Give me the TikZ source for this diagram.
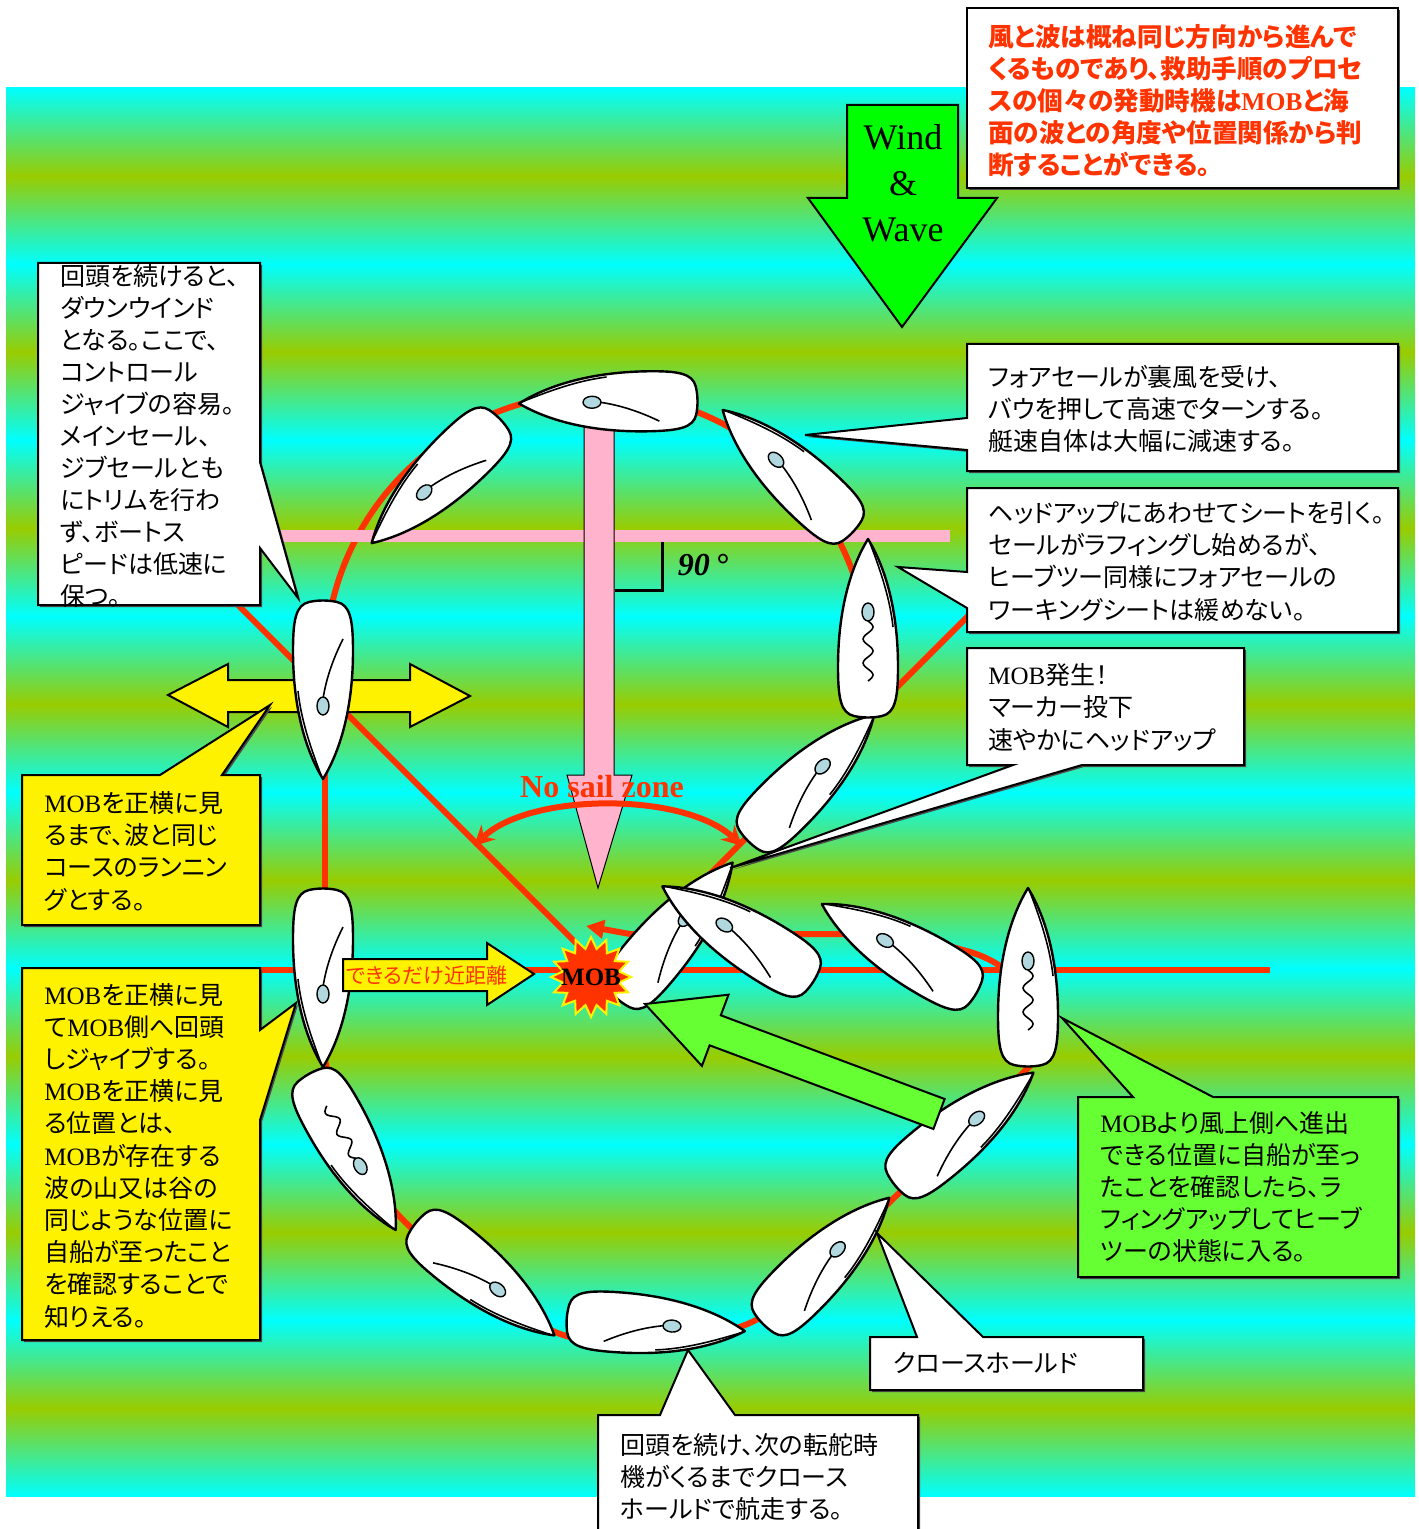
\documentclass[tikz,border=0pt]{standalone}
\usepackage{fontspec}
\setmainfont{Liberation Serif}
\newfontfamily\jp{Noto Sans CJK JP}[RawFeature=+palt]
\usetikzlibrary{arrows.meta,shapes.geometric,shadows}
\definecolor{SeaCyan}{RGB}{0,255,255}
\definecolor{SeaOlive}{RGB}{153,204,0}
\definecolor{CourseRed}{RGB}{255,51,0}
\definecolor{ZonePink}{RGB}{255,179,204}
\definecolor{WindGreen}{RGB}{0,255,0}
\definecolor{NoteGreen}{RGB}{102,255,51}
\definecolor{MastBlue}{RGB}{176,216,222}

\newcommand\en[1]{{\rmfamily #1}}
% boat: x, y, heading, main side, jib side, luffing (1/0)
\newcommand\boat[6]{%
  \begin{scope}[shift={(#1,#2)},rotate=#3]
    \draw[hull] (88,0) .. controls (62,16) and (20,30) .. (-40,30)
      .. controls (-72,30) and (-86,27) .. (-89,14)
      .. controls (-91,5) and (-91,-5) .. (-89,-14)
      .. controls (-86,-27) and (-72,-30) .. (-40,-30)
      .. controls (20,-30) and (62,-16) .. (88,0) -- cycle;
    \draw[sail,yscale=#5] (84,2) .. controls (55,13) and (28,22) .. (0,25);
    \ifnum#6=1
      \draw[sail] plot[smooth,variable=\t,domain=0:1,samples=31] ({6-60*\t},{5*sin(900*\t)});
    \else
      \draw[sail,yscale=#4] (8,0) .. controls (-12,3) and (-32,10) .. (-52,20);
    \fi
    \draw[mast] (15,0) ellipse[x radius=9,y radius=6];
  \end{scope}}

\tikzset{
  course/.style={draw=CourseRed,line width=3pt},
  hull/.style={draw=black,fill=white,line width=1.2pt,line join=round},
  sail/.style={draw=black,line width=0.8pt},
  mast/.style={draw=black,fill=MastBlue,line width=0.7pt},
  arrowbox/.style={draw=black,line width=1pt,line join=miter},
  panel/.style={draw=black,fill=white,line width=1pt,
    drop shadow={shadow xshift=1pt,shadow yshift=-1pt,fill=black!70,opacity=1}},
  jtxt/.style={font=\jp\fontsize{12.5}{16}\selectfont,text width=230pt,
    align=left,inner sep=0pt,anchor=base west},
  mobstar/.style={star,star points=16,star point ratio=1.4,minimum size=40pt,
    inner sep=0pt,fill=CourseRed,draw=yellow,line width=1pt}
}

\begin{document}
\begin{tikzpicture}[x=0.5pt,y=-0.5pt]
\useasboundingbox (0,0) rectangle (1418,1529);

% sea
\foreach \k in {0,...,7}{
  \shade[top color=SeaCyan,bottom color=SeaOlive] (6,88+176*\k) rectangle (1415,176.5+176*\k);
  \shade[top color=SeaOlive,bottom color=SeaCyan] (6,176+176*\k) rectangle (1415,264.5+176*\k);
}

% course lines
\draw[course] (260,970) -- (1270,970);
\draw[course] (225,592) -- (585,952);
\draw[course] (975,609) -- (640,944);
\draw[course] (597,665) ++(10:272) arc[start angle=10,end angle=-180,radius=272];
\draw[course] (325,665) -- (325,1062);
\draw[course] plot[smooth,tension=0.55] coordinates {(325,1060) (352,1150) (405,1222)
  (486,1286) (563,1335) (657,1342) (752,1322) (827,1262) (896,1196) (965,1130) (1030,1066)};
\draw[course,-{Triangle[length=9pt,width=9pt]}] (1030,1066) -- (1028,1000)
  .. controls (1018,975) and (995,958) .. (963,950)
  .. controls (930,940) and (885,934) .. (840,934) -- (630,934) -- (586,926);

% no sail zone
\fill[ZonePink] (275,530) rectangle (950,542);
\draw[fill=ZonePink,line width=0.5pt] (584,425) -- (614,425) -- (614,775) -- (632,775)
  -- (598,888) -- (567,775) -- (584,775) -- cycle;
\draw[course,{Stealth[length=10pt,width=10pt]}-{Stealth[length=10pt,width=10pt]}]
  (474,846) .. controls (530,792) and (685,792) .. (742,846);
\draw[line width=1.5pt] (615,590) -- (662,590) -- (662,542);
\node[font=\bfseries\itshape\fontsize{16}{16}\selectfont] (rightangle) at (703,565) {90\,°};

\draw[arrowbox,fill=yellow] (168,695) -- (228,664) -- (228,680) -- (410,680) -- (410,664)
  -- (470,696) -- (410,727) -- (410,712) -- (228,712) -- (228,727) -- cycle;

% boats
\boat{607}{402}{181}{-1}{1}{0}
\boat{435}{482}{224}{-1}{1}{0}
\boat{323}{691}{270}{-1}{1}{0}
\boat{323}{979}{270}{-1}{1}{0}
\boat{353}{1153}{299}{1}{1}{1}
\boat{486}{1280}{-39}{1}{1}{0}
\boat{657}{1325}{-4}{1}{1}{0}
\boat{827}{1260}{45}{1}{1}{0}
\boat{965}{1128}{39}{1}{1}{0}
\boat{1028}{976}{90}{1}{1}{1}
\boat{898}{948}{150}{-1}{1}{0}
\boat{676}{930}{50}{1}{1}{0}
\boat{737}{933}{148}{-1}{1}{0}
\boat{812}{777}{45}{1}{1}{0}
\boat{868}{627}{90}{1}{1}{1}
\boat{787}{470}{137}{-1}{1}{0}

\draw[arrowbox,fill=yellow] (343,959) -- (487,959) -- (487,943) -- (534,974) -- (487,1005)
  -- (487,991) -- (343,991) -- cycle;
\node[font=\jp\fontsize{10.5}{10.5}\selectfont,text=CourseRed] (nearlbl) at (427,976) {できるだけ近距離};

\draw[arrowbox,fill=NoteGreen] (944.6,1099) -- (720.8,1015.3) -- (728.5,994.7) -- (645,1004)
  -- (701.9,1065.9) -- (709.6,1045.3) -- (933.4,1129) -- cycle;

\draw[arrowbox,fill=WindGreen] (847,105) -- (958,105) -- (958,198) -- (997,198) -- (902,327)
  -- (808,198) -- (847,198) -- cycle;
\node[font=\fontsize{18}{23}\selectfont,text width=90pt,align=center,inner sep=0pt,anchor=base]
  (windlbl) at (903,150) {Wind\\\&\\Wave};

\node[mobstar] (mob) at (591,977) {};
\node[font=\bfseries\fontsize{12.5}{12.5}\selectfont] (moblbl) at (mob) {MOB};
\node[font=\bfseries\fontsize{16}{16}\selectfont,text=CourseRed] (zonelbl) at (602,787) {No sail zone};

% notes
\draw[panel] (967,8) rectangle (1398,188);
\node[jtxt,font=\jp\bfseries\fontsize{12.8}{16}\selectfont,text=CourseRed] (ruletxt) at (988,46.5)
  {風と波は概ね同じ方向から進んで\\くるものであり、救助手順のプロセ\\スの個々の発動時機は\en{MOB}と海\\面の波との角度や位置関係から判\\断することができる。};

\draw[panel] (38,263) -- (260,263) -- (260,462) -- (298,598) -- (260,548) -- (260,605) -- (38,605) -- cycle;
\node[jtxt] (downtxt) at (60,286)
  {回頭を続けると、\\ダウンウインド\\となる。ここで、\\コントロール\\ジャイブの容易。\\メインセール、\\ジブセールとも\\にトリムを行わ\\ず、ボートス\\ピードは低速に\\保つ。};

\draw[panel] (967,344) -- (1398,344) -- (1398,471) -- (967,471) -- (967,450) -- (805,435) -- (967,418) -- cycle;
\node[jtxt] (tacktxt) at (988,387)
  {フォアセールが裏風を受け、\\バウを押して高速でターンする。\\艇速自体は大幅に減速する。};

\draw[panel] (967,488) -- (1398,488) -- (1398,632) -- (967,632) -- (967,608) -- (898,567) -- (967,572) -- cycle;
\node[jtxt,font=\jp\fontsize{12.5}{16.2}\selectfont] (headtxt) at (988,522)
  {ヘッドアップにあわせてシートを引く。\\セールがラフィングし始めるが、\\ヒーブツー同様にフォアセールの\\ワーキングシートは緩めない。};

\draw[panel] (967,648) -- (1244,648) -- (1244,765) -- (1082,765) -- (730,868) -- (1013,765) -- (967,765) -- cycle;
\node[jtxt,font=\jp\fontsize{12.5}{16.3}\selectfont] (mobtxt) at (988,684)
  {\en{MOB}発生！\\マーカー投下\\速やかにヘッドアップ};

\draw[panel,fill=NoteGreen] (1078,1097) -- (1133,1097) -- (1062,1018) -- (1213,1097) -- (1398,1097)
  -- (1398,1277) -- (1078,1277) -- cycle;
\node[jtxt,font=\jp\fontsize{12.5}{16.1}\selectfont] (heavetxt) at (1100,1132)
  {\en{MOB}より風上側へ進出\\できる位置に自船が至っ\\たことを確認したら、ラ\\フィングアップしてヒーブ\\ツーの状態に入る。};

\draw[panel] (870,1337) -- (917,1337) -- (877,1233) -- (983,1337) -- (1143,1337) -- (1143,1390) -- (870,1390) -- cycle;
\node[jtxt] (closetxt) at (893,1372) {クロースホールド};

\draw[panel] (598,1415) -- (660,1415) -- (688,1350) -- (735,1415) -- (918,1415) -- (918,1540) -- (598,1540) -- cycle;
\node[jtxt] (holdtxt) at (620,1454)
  {回頭を続け、次の転舵時\\機がくるまでクロース\\ホールドで航走する。};

\draw[panel,fill=yellow] (22,775) -- (160,775) -- (270,705) -- (222,775) -- (260,775) -- (260,925) -- (22,925) -- cycle;
\node[jtxt,font=\jp\fontsize{12.5}{16.2}\selectfont] (runtxt) at (44,812)
  {\en{MOB}を正横に見\\るまで、波と同じ\\コースのランニン\\グとする。};

\draw[panel,fill=yellow] (22,968) -- (260,968) -- (260,1030) -- (296,1003) -- (260,1120) -- (260,1340) -- (22,1340) -- cycle;
\node[jtxt,font=\jp\fontsize{12.5}{16.1}\selectfont] (gybetxt) at (44,1004)
  {\en{MOB}を正横に見\\て\en{MOB}側へ回頭\\しジャイブする。\\\en{MOB}を正横に見\\る位置とは、\\\en{MOB}が存在する\\波の山又は谷の\\同じような位置に\\自船が至ったこと\\を確認することで\\知りえる。};

\end{tikzpicture}
\end{document}
